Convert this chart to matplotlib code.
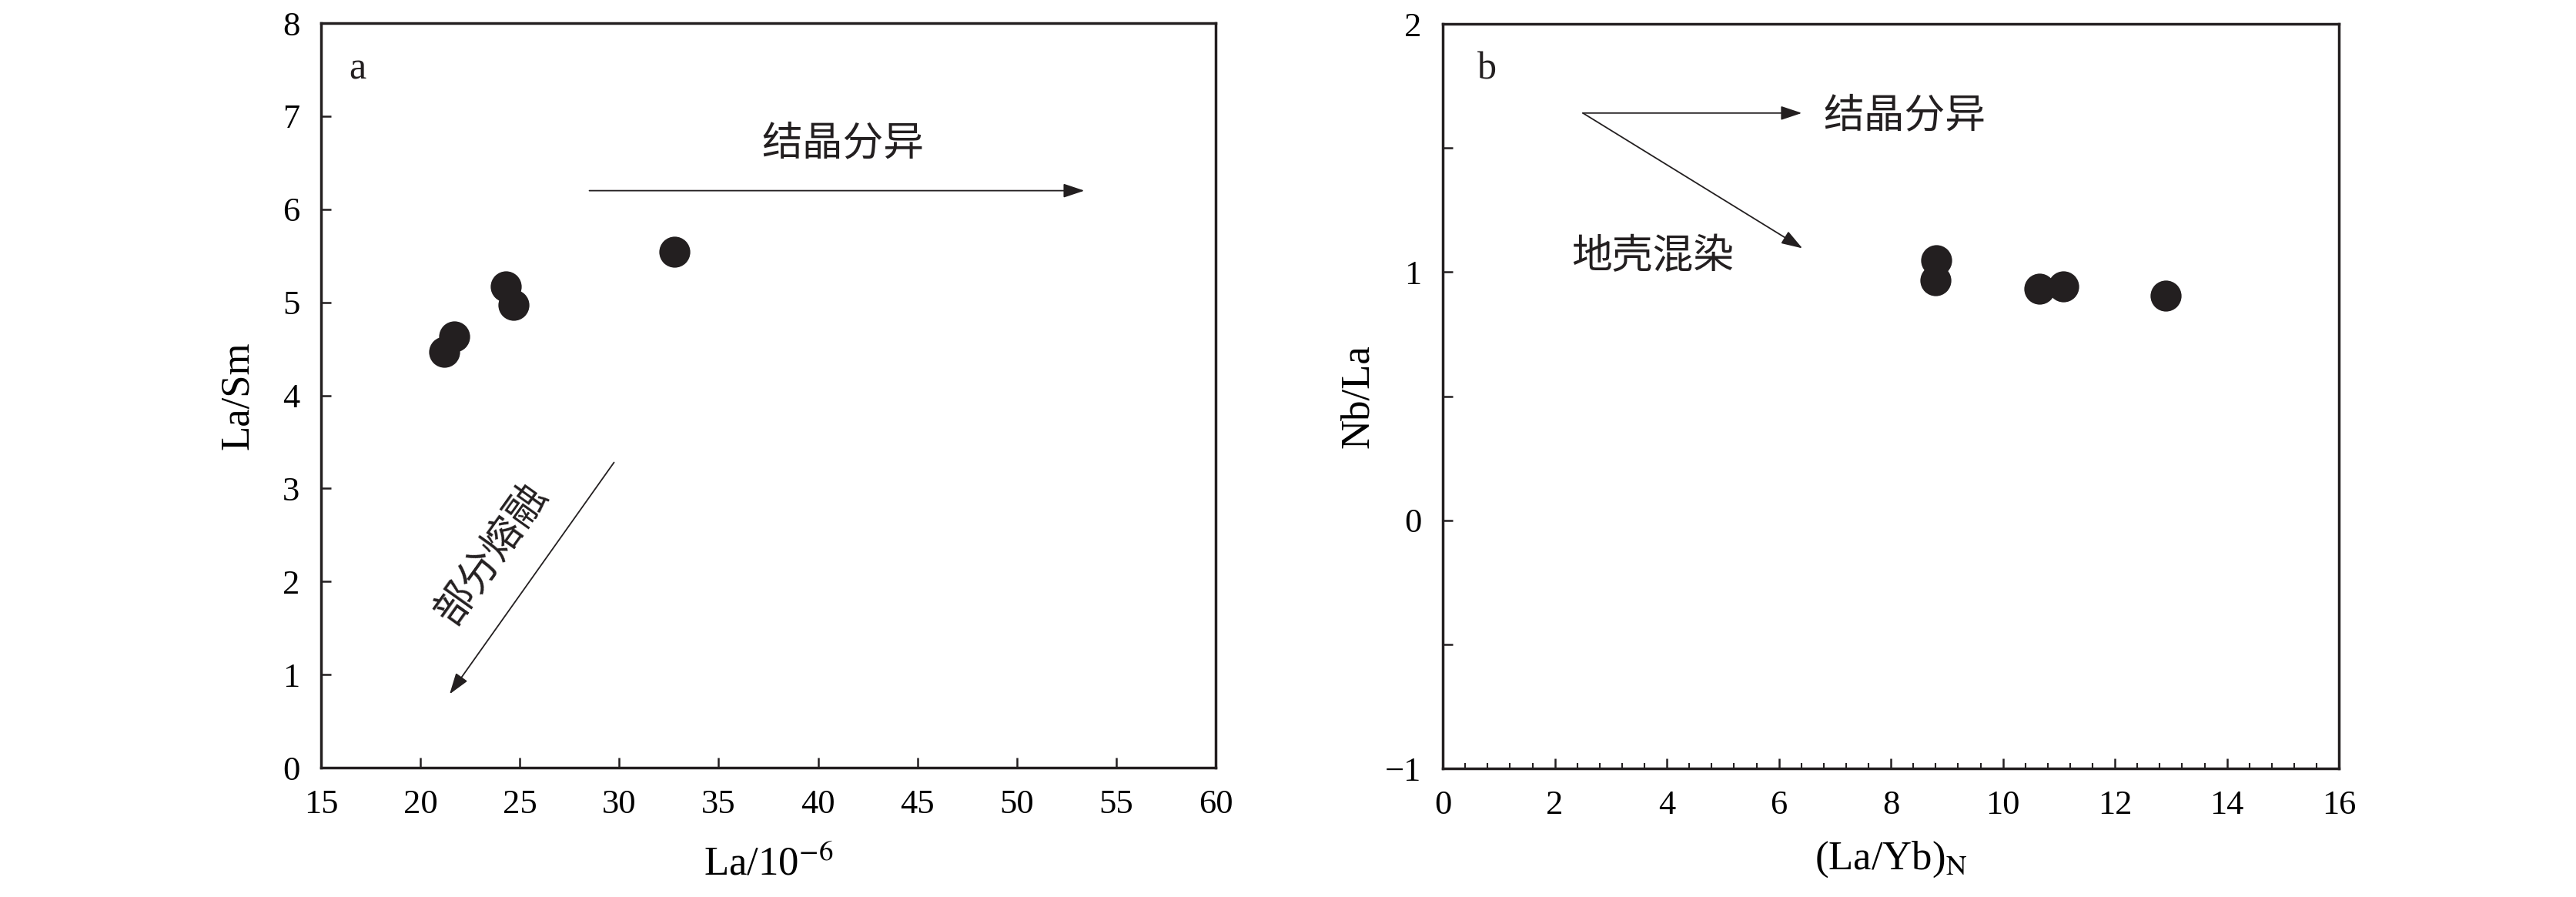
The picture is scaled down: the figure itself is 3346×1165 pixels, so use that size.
import matplotlib
matplotlib.use('Agg')
import matplotlib.pyplot as plt

# 图a: La - La/Sm
la_a = [21.21, 21.70, 24.31, 24.68, 32.78]
la_sm = [4.47, 4.635, 5.168, 4.972, 5.543]

# 图b: (La/Yb)N - Nb/La
la_yb_n = [8.81, 8.79, 10.65, 11.08, 12.90]
nb_la = [1.047, 0.966, 0.932, 0.943, 0.906]

xticks_a = [15, 20, 25, 30, 35, 40, 45, 50, 55, 60]
yticks_a = [0, 1, 2, 3, 4, 5, 6, 7, 8]
xticks_b = [0, 2, 4, 6, 8, 10, 12, 14, 16]
yticks_b = [-1, -0.5, 0, 0.5, 1, 1.5, 2]
yticklabels_b = ['\u22121', '', '0', '', '1', '', '2']

plt.rcParams['font.family'] = ['Liberation Serif', 'Noto Sans CJK SC']
plt.rcParams['mathtext.fontset'] = 'stix'
plt.rcParams['axes.unicode_minus'] = True

ink = '#231f20'
tick_size = 32
label_size = 38
cn_size = 38

fig = plt.figure(figsize=(33.46, 11.65), dpi=100)
ax1 = fig.add_axes([0.1246, 0.1442, 0.3473, 0.830])
ax2 = fig.add_axes([0.5601, 0.1433, 0.3479, 0.830])

for ax in (ax1, ax2):
    for sp in ax.spines.values():
        sp.set_linewidth(2.5)
        sp.set_color(ink)
    ax.tick_params(which='major', direction='in', length=9.5, width=1.8, color=ink,
                   labelsize=tick_size, pad=20, top=False, right=False)
    ax.tick_params(which='minor', direction='in', length=5, width=1.5, color=ink)

# ---- a ----
ax1.plot(la_a, la_sm, 'o', color=ink, markersize=29, markeredgewidth=0)
ax1.set_xlim(15, 60)
ax1.set_ylim(0, 8)
ax1.set_xticks(xticks_a)
ax1.set_yticks(yticks_a)
ax1.set_xlabel('La/10$^{-6}$', fontsize=label_size)
ax1.set_ylabel('La/Sm', fontsize=label_size)
ax1.xaxis.set_label_coords(0.5, -0.104)
ax1.yaxis.set_label_coords(-0.072, 0.5)
ax1.text(16.4, 7.5, 'a', fontsize=36, color=ink, va='center')
ax1.text(41.25, 6.69, '结晶分异', fontsize=cn_size, color=ink, ha='center', va='center')
ax1.annotate('', xy=(53.4, 6.2), xytext=(28.5, 6.2),
             arrowprops=dict(arrowstyle='-|>,head_length=0.6,head_width=0.2',
                             mutation_scale=28, color=ink, lw=1.3, shrinkA=0, shrinkB=0))
ax1.annotate('', xy=(21.47, 0.79), xytext=(29.74, 3.28),
             arrowprops=dict(arrowstyle='-|>,head_length=0.6,head_width=0.2',
                             mutation_scale=28, color=ink, lw=1.3, shrinkA=0, shrinkB=0))
ax1.text(23.63, 2.29, '部分熔融', fontsize=cn_size, color=ink, ha='center', va='center',
         rotation=54.5, rotation_mode='anchor')

# ---- b ----
ax2.plot(la_yb_n, nb_la, 'o', color=ink, markersize=29, markeredgewidth=0)
ax2.set_xlim(0, 16)
ax2.set_ylim(-1, 2)
ax2.set_xticks(xticks_b)
ax2.set_xticks([i * 0.4 for i in range(41)], minor=True)
ax2.set_yticks(yticks_b)
ax2.set_yticklabels(yticklabels_b)
ax2.set_xlabel('(La/Yb)$_\\mathrm{N}$', fontsize=label_size)
ax2.set_ylabel('Nb/La', fontsize=label_size)
ax2.xaxis.set_label_coords(0.5, -0.096)
ax2.yaxis.set_label_coords(-0.074, 0.5)
ax2.text(0.62, 1.817, 'b', fontsize=36, color=ink, va='center')
ax2.annotate('', xy=(6.41, 1.641), xytext=(2.50, 1.641),
             arrowprops=dict(arrowstyle='-|>,head_length=0.6,head_width=0.2',
                             mutation_scale=28, color=ink, lw=1.3, shrinkA=0, shrinkB=0))
ax2.annotate('', xy=(6.42, 1.096), xytext=(2.50, 1.641),
             arrowprops=dict(arrowstyle='-|>,head_length=0.6,head_width=0.2',
                             mutation_scale=28, color=ink, lw=1.3, shrinkA=0, shrinkB=0))
ax2.text(6.80, 1.625, '结晶分异', fontsize=cn_size, color=ink, ha='left', va='center')
ax2.text(3.75, 1.06, '地壳混染', fontsize=cn_size, color=ink, ha='center', va='center')

fig.savefig('out.png', dpi=100, facecolor='white')
